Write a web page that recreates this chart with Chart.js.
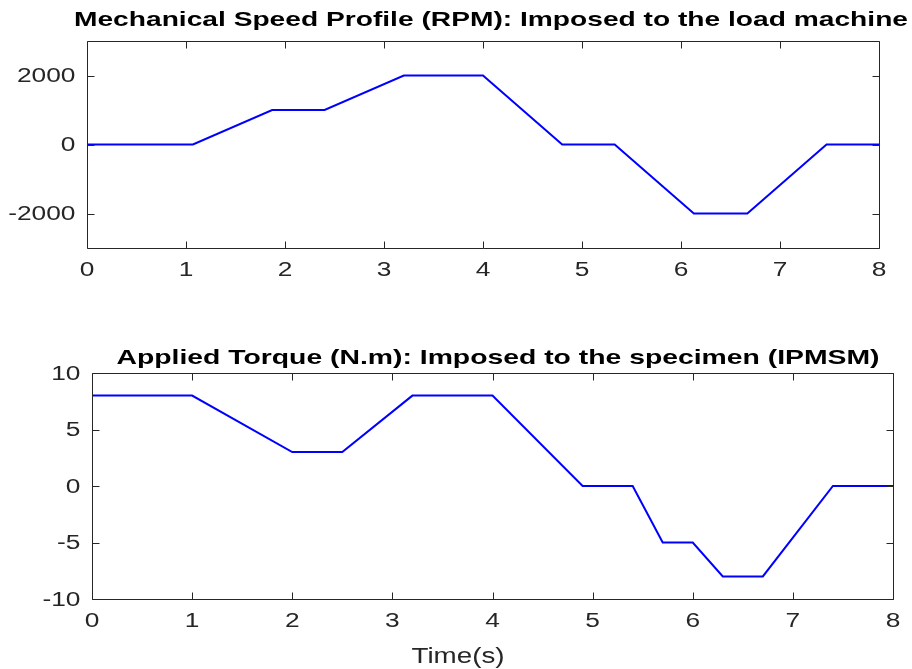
<!DOCTYPE html>
<html>
<head>
<meta charset="utf-8">
<script src="https://cdn.jsdelivr.net/npm/chart.js@4.4.1/dist/chart.umd.min.js"></script>
<style>
  body { margin: 0; background: #fff; }
  canvas { display: block; }
</style>
</head>
<body>
<canvas id="speedChart" width="912" height="310"></canvas>
<canvas id="torqueChart" width="912" height="359"></canvas>
<script>
// speed profile imposed to the load machine
const speedTime = [0, 1.07, 1.87, 2.4, 3.2, 4, 4.8, 5.33, 6.13, 6.67, 7.47, 8]
const speedRpm = [0, 0, 1000, 1000, 2000, 2000, 0, 0, -2000, -2000, 0, 0]

// torque applied to the IPMSM
const torqueTime = [0, 1, 2, 2.5, 3.2, 4, 4.9, 5.4, 5.7, 6, 6.3, 6.7, 7.4, 8]
const torqueNm = [8, 8, 3, 3, 8, 8, 0, 0, -5, -5, -8, -8, 0, 0]

const timeTicks = [0, 1, 2, 3, 4, 5, 6, 7, 8]
const speedTicks = [-2000, 0, 2000]
const torqueTicks = [-10, -5, 0, 5, 10]

const axisColor = '#262626'
const tickFont = '19.5px "Liberation Sans"'
const tickStretch = 1.35

// draws text squeezed/stretched horizontally by sx
function wideText(ctx, text, x, y, sx, align){
    ctx.save()
    ctx.translate(x, y)
    ctx.scale(sx, 1)
    ctx.textAlign = align
    ctx.textBaseline = 'middle'
    ctx.fillText(text, 0, 0)
    ctx.restore()
}

function fitText(ctx, text, font, cx, cy, width){
    ctx.font = font
    wideText(ctx, text, cx, cy, width / ctx.measureText(text).width, 'center')
}

// box around the plot with inward ticks on all four sides, tick labels and titles
const frame = {
    id: 'frame',
    afterDraw(chart, args, opts){
        const {ctx, chartArea: a, scales} = chart
        const x = scales.x, y = scales.y
        const L = Math.round(a.left) + 0.5, R = Math.round(a.right) + 0.5
        const T = Math.round(a.top) + 0.5, B = Math.round(a.bottom) + 0.5
        ctx.save()
        ctx.strokeStyle = axisColor
        ctx.lineWidth = 1
        ctx.beginPath()
        ctx.rect(L, T, R - L, B - T)
        x.ticks.forEach(t => {
            const px = Math.round(x.getPixelForValue(t.value)) + 0.5
            ctx.moveTo(px, B); ctx.lineTo(px, B - 7)
            ctx.moveTo(px, T); ctx.lineTo(px, T + 7)
        })
        y.ticks.forEach(t => {
            const py = Math.round(y.getPixelForValue(t.value)) + 0.5
            ctx.moveTo(L, py); ctx.lineTo(L + 7, py)
            ctx.moveTo(R, py); ctx.lineTo(R - 7, py)
        })
        ctx.stroke()

        ctx.fillStyle = axisColor
        ctx.font = tickFont
        x.ticks.forEach(t => {
            wideText(ctx, String(t.value), x.getPixelForValue(t.value), B + 22.5, tickStretch, 'center')
        })
        y.ticks.forEach(t => {
            wideText(ctx, String(t.value), L - 12, y.getPixelForValue(t.value) + 1.5, tickStretch, 'right')
        })

        ctx.fillStyle = '#000'
        if(opts.title){
            fitText(ctx, opts.title, 'bold 21px "Liberation Sans"', opts.titleX, opts.titleY, opts.titleWidth)
        }
        if(opts.xlabel){
            ctx.fillStyle = axisColor
            fitText(ctx, opts.xlabel, '22px "Liberation Sans"', opts.xlabelX, opts.xlabelY, opts.xlabelWidth)
        }
        ctx.restore()
    }
}

function makeChart(id, xs, ys, yTicks, yMin, yMax, box, frameOpts){
    return new Chart(document.getElementById(id), {
        type: 'line',
        data: {
            datasets: [{
                data: xs.map((t, i) => ({x: t, y: ys[i]})),
                borderColor: '#0000ff',
                borderWidth: 2,
                pointRadius: 0,
                tension: 0
            }]
        },
        options: {
            responsive: false,
            animation: false,
            layout: {padding: {left: 0, right: box.right, top: box.top, bottom: 0}},
            plugins: {
                legend: {display: false},
                tooltip: {enabled: false},
                frame: frameOpts
            },
            scales: {
                x: {
                    type: 'linear',
                    min: 0,
                    max: 8,
                    afterBuildTicks: s => { s.ticks = timeTicks.map(v => ({value: v})) },
                    afterFit: s => { s.height = box.xHeight },
                    grid: {display: false},
                    border: {display: false},
                    ticks: {display: false}
                },
                y: {
                    min: yMin,
                    max: yMax,
                    afterBuildTicks: s => { s.ticks = yTicks.map(v => ({value: v})) },
                    afterFit: s => { s.width = box.yWidth },
                    grid: {display: false},
                    border: {display: false},
                    ticks: {display: false}
                }
            }
        },
        plugins: [frame]
    })
}

makeChart('speedChart', speedTime, speedRpm, speedTicks, -3000, 3000,
    {right: 33, top: 41, xHeight: 62, yWidth: 87},
    {title: 'Mechanical Speed Profile (RPM): Imposed to the load machine',
     titleX: 491, titleY: 20, titleWidth: 834})

makeChart('torqueChart', torqueTime, torqueNm, torqueTicks, -10, 10,
    {right: 19, top: 63, xHeight: 70, yWidth: 92},
    {title: 'Applied Torque (N.m): Imposed to the specimen (IPMSM)',
     titleX: 498, titleY: 48, titleWidth: 763,
     xlabel: 'Time(s)', xlabelX: 458, xlabelY: 347, xlabelWidth: 93})
</script>
</body>
</html>
